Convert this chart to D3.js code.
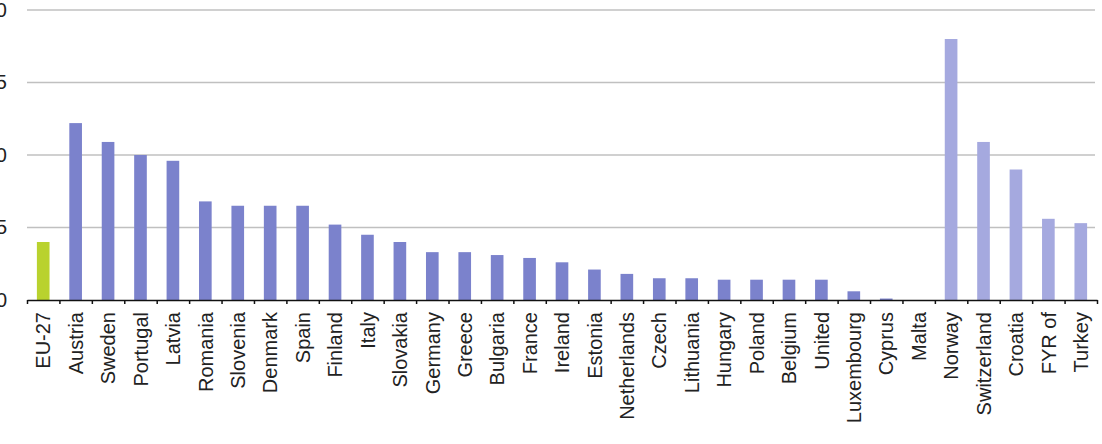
<!DOCTYPE html>
<html>
<head>
<meta charset="utf-8">
<script src="https://cdn.jsdelivr.net/npm/d3@7"></script>
<style>
  body { margin: 0; background: #fff; }
  svg { display: block; font-family: "Liberation Sans", Arial, sans-serif; }
</style>
</head>
<body>
<div id="chart"></div>
<script>
const countries = ["EU-27", "Austria", "Sweden", "Portugal", "Latvia", "Romania", "Slovenia", "Denmark", "Spain", "Finland", "Italy", "Slovakia", "Germany", "Greece", "Bulgaria", "France", "Ireland", "Estonia", "Netherlands", "Czech", "Lithuania", "Hungary", "Poland", "Belgium", "United", "Luxembourg", "Cyprus", "Malta", "Norway", "Switzerland", "Croatia", "FYR of", "Turkey"];
const values = [4.0, 12.2, 10.9, 10.0, 9.6, 6.8, 6.5, 6.5, 6.5, 5.2, 4.5, 4.0, 3.3, 3.3, 3.1, 2.9, 2.6, 2.1, 1.8, 1.5, 1.5, 1.4, 1.4, 1.4, 1.4, 0.6, 0.1, 0, 18.0, 10.9, 9.0, 5.6, 5.3];
const groups = ["total", "eu", "eu", "eu", "eu", "eu", "eu", "eu", "eu", "eu", "eu", "eu", "eu", "eu", "eu", "eu", "eu", "eu", "eu", "eu", "eu", "eu", "eu", "eu", "eu", "eu", "eu", "eu", "other", "other", "other", "other", "other"];
const yTicks = [0, 5, 10, 15, 20];

const data = countries.map((c, i) => ({ name: c, value: values[i], group: groups[i] }));

const w = 1102, h = 444;
const pad = { t: 10, b: 144, s: 27, e: 5 };
const colors = { total: "#b9d22e", eu: "#7b82cc", other: "#a5a9df" };

const svg = d3.select("#chart").append("svg").attr("width", w).attr("height", h);

const x = d3.scaleBand().domain(countries).range([pad.s, w - pad.e]).paddingInner(0.61).paddingOuter(0.305);
const xEdge = d3.scaleLinear().domain([0, countries.length]).range([pad.s, w - pad.e]);
const y = d3.scaleLinear().domain([0, 20]).range([h - pad.b, pad.t]);

// grid
svg.append("g")
  .selectAll("line")
  .data(yTicks.filter((d) => d > 0))
  .enter()
  .append("line")
  .attr("x1", pad.s)
  .attr("x2", w - 7)
  .attr("y1", (d) => y(d))
  .attr("y2", (d) => y(d))
  .attr("stroke", "#c0c0c0")
  .attr("stroke-width", 1.5);

// y labels (cut at the left edge like the source)
const yAxis = svg.append("g")
  .attr("transform", `translate(20, 0)`)
  .call(d3.axisLeft(y).tickValues(yTicks).tickSize(0).tickPadding(13));
yAxis.select(".domain").remove();
yAxis.selectAll("text").attr("font-size", 20).attr("fill", "#222").attr("font-family", "Liberation Sans, Arial, sans-serif");

// bars
svg.append("g")
  .selectAll("rect")
  .data(data)
  .enter()
  .append("rect")
  .attr("x", (d) => x(d.name))
  .attr("width", x.bandwidth())
  .attr("y", (d) => y(d.value))
  .attr("height", (d) => y(0) - y(d.value))
  .attr("fill", (d) => colors[d.group]);

// axis line with ticks between categories
const xAxis = svg.append("g")
  .attr("transform", `translate(0, ${y(0)})`)
  .call(d3.axisBottom(xEdge).tickValues(d3.range(countries.length + 1)).tickFormat("").tickSize(4).tickSizeOuter(0));
xAxis.select(".domain").attr("stroke", "#111").attr("stroke-width", 1.5);
xAxis.selectAll(".tick line").attr("stroke", "#111").attr("stroke-width", 1.5);

// category labels
const xLabels = svg.append("g")
  .attr("transform", `translate(0, ${y(0)})`)
  .call(d3.axisBottom(x).tickSize(0).tickPadding(0));
xLabels.select(".domain").remove();
xLabels.selectAll("text")
  .attr("font-size", 20)
  .attr("fill", "#222")
  .attr("font-family", "Liberation Sans, Arial, sans-serif")
  .attr("text-anchor", "end")
  .attr("transform", "rotate(-90)")
  .attr("x", -12)
  .attr("y", 0)
  .attr("dy", "0.36em");
</script>
</body>
</html>
